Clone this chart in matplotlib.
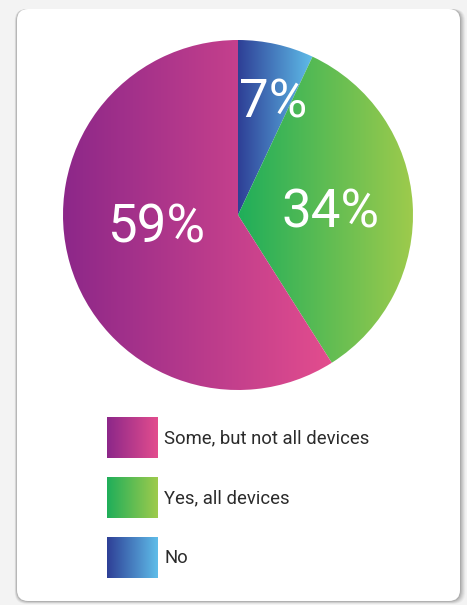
import numpy as np
import matplotlib
matplotlib.use("Agg")
import matplotlib.pyplot as plt
from matplotlib.patches import FancyBboxPatch, Rectangle
from matplotlib.colors import LinearSegmentedColormap

# survey answers, clockwise from 12 o'clock
labels = ["No", "Yes, all devices", "Some, but not all devices"]
shares = [7, 34, 59]
grad_left = ["#2e3f96", "#1fae5a", "#8c2789"]
grad_right = ["#5fbde9", "#9fcb4c", "#e34d8e"]

# legend order (top to bottom)
legend_order = [2, 1, 0]

W, H = 467, 605
fig = plt.figure(figsize=(W / 100, H / 100), dpi=100)
ax = fig.add_axes([0, 0, 1, 1])
fig.patch.set_facecolor("#f3f3f3")


def py(y):
    # pixel row -> data y
    return H - y


def gradient_fill(patch, x0, x1, y0, y1, c0, c1):
    cmap = LinearSegmentedColormap.from_list("g", [c0, c1])
    grad = np.linspace(0, 1, 256).reshape(1, -1)
    im = ax.imshow(grad, cmap=cmap, extent=(x0, x1, y0, y1), origin="lower",
                   aspect="auto", zorder=3, interpolation="bilinear")
    im.set_clip_path(patch)


cx, cy, r = 238, py(215), 175
wedges, _ = ax.pie(shares, center=(cx, cy), radius=r, startangle=90,
                   counterclock=False,
                   wedgeprops=dict(fc="none", ec="none", zorder=3), frame=True)
ax.set_xlim(0, W)
ax.set_ylim(0, H)
ax.set_aspect("equal")
ax.axis("off")

# card with a soft shadow, mostly to the right / below
for i, a in enumerate([0.03, 0.04, 0.05, 0.06, 0.07, 0.08]):
    grow = 6 - i
    ax.add_patch(FancyBboxPatch((17 - grow * 0.4, py(601) - grow * 0.5),
                                443 + grow * 1.3, 592 + grow * 0.5,
                                boxstyle="round,pad=0,rounding_size=12",
                                fc="black", ec="none", alpha=a, zorder=1))
ax.add_patch(FancyBboxPatch((17, py(601)), 443, 592,
                            boxstyle="round,pad=0,rounding_size=11",
                            fc="white", ec="none", zorder=2))

for w, c0, c1 in zip(wedges, grad_left, grad_right):
    verts = w.get_path().vertices
    x0, x1 = verts[:, 0].min(), verts[:, 0].max()
    y0, y1 = verts[:, 1].min(), verts[:, 1].max()
    gradient_fill(w, x0, x1, y0, y1, c0, c1)

# percentage labels inside the slices
label_pos = [(273, 103), (330, 213), (156, 228)]
for s, (lx, ly) in zip(shares, label_pos):
    ax.text(lx, py(ly), f"{s}%", color="white", fontsize=38,
            family="Roboto", weight="normal", ha="center", va="center",
            zorder=5)

# legend with gradient swatches
for k, idx in enumerate(legend_order):
    top = 417 + 60 * k
    sw = Rectangle((107, py(top + 41)), 51, 41, fc="none", ec="none", zorder=3)
    ax.add_patch(sw)
    gradient_fill(sw, 107, 158, py(top + 41), py(top), grad_left[idx], grad_right[idx])
    ax.text(164, py(top + 21), labels[idx], color="#2b2b2b", fontsize=13.3,
            family="Roboto", ha="left", va="center", zorder=5)

fig.savefig("out.png", dpi=100)
